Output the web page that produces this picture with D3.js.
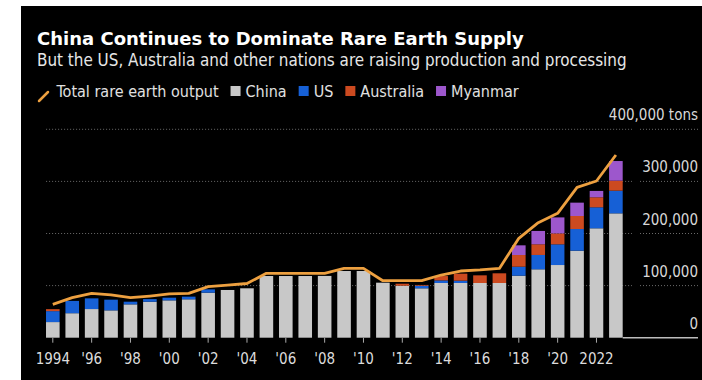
<!DOCTYPE html>
<html>
<head>
<meta charset="utf-8">
<script src="https://cdn.jsdelivr.net/npm/d3@7"></script>
<style>
  body { margin: 0; background: #fff; }
  svg text { font-family: "DejaVu Sans Condensed", "DejaVu Sans", sans-serif; }
  svg text.title { font-family: "DejaVu Sans", sans-serif; }
</style>
</head>
<body>
<div class="graph"></div>
<script>
// values in thousand tons
const years = d3.range(1994, 2024);
const china = [30, 47, 55, 52.5, 64, 69, 71.7, 73.7, 86.4, 91.6, 94.8, 118.4, 118.4, 118.4, 118.6, 128, 128, 105.6, 99.8, 94.8, 105, 105, 105, 105, 119, 131.3, 139.5, 167, 210, 238.7];
const us = [21, 23.6, 20.5, 20.5, 5.1, 5.1, 5.1, 5.1, 6.4, 0, 0, 0, 0, 0, 0, 0, 0, 0, 0, 5, 5, 4.5, 0, 0, 17.3, 27.5, 39.7, 41.6, 40.3, 43.5];
const australia = [3.8, 0, 0, 0, 0, 0, 0, 0, 0, 0, 0, 0, 0, 0, 0, 0, 0, 0, 3.8, 1.5, 8.3, 13.4, 14.7, 18.6, 22.4, 20.5, 21, 25, 19.2, 19.2];
const myanmar = [0, 0, 0, 0, 0, 0, 0, 0, 0, 0, 0, 0, 0, 0, 0, 0, 0, 0, 0, 0, 0, 0, 0, 0, 18.6, 25.6, 30.7, 25.6, 12.2, 37.7];
const total = [64, 76.8, 85, 82, 76.8, 80, 84, 85, 98, 101, 104, 123.6, 123.6, 123.6, 123.6, 133, 133, 109.4, 109.4, 109.4, 120.3, 128, 130, 133, 190.7, 220.7, 238.7, 288.6, 300.8, 350.7];
const yTicks = [0, 100, 200, 300, 400];
const xTickYears = d3.range(1994, 2023, 2);

const seriesKeys = ["China", "US", "Australia", "Myanmar"];
const colors = { China: "#c8c8c8", US: "#1660d6", Australia: "#cc4a20", Myanmar: "#9d57cc" };
const lineColor = "#eda040";

const W = 702, H = 380;
const svg = d3.select(".graph").append("svg").attr("width", W).attr("height", H);

svg.append("rect").attr("x", 21).attr("y", 6).attr("width", W - 21).attr("height", H - 6).attr("fill", "#000");

// titles
svg.append("text").attr("class", "title").attr("x", 37).attr("y", 45).attr("fill", "#fff")
  .attr("font-size", 18).attr("font-weight", "bold")
  .text("China Continues to Dominate Rare Earth Supply");
svg.append("text").attr("x", 37).attr("y", 66).attr("fill", "#e6e6e6")
  .attr("font-size", 16.9)
  .text("But the US, Australia and other nations are raising production and processing");

// scales
const x = d3.scaleBand().domain(years).range([43.1, 625.6]).paddingInner(0.3).paddingOuter(0.15);
const y = d3.scaleLinear().domain([0, 400]).range([337.7, 129.3]);

// gridlines
const grid = svg.append("g");
yTicks.filter((d) => d > 0).forEach((d) => {
  grid.append("line").attr("x1", x.range()[0] + 3).attr("x2", 632)
    .attr("y1", y(d)).attr("y2", y(d));
  grid.append("line").attr("x1", 640).attr("x2", 698)
    .attr("y1", y(d)).attr("y2", y(d));
});
grid.selectAll("line").attr("stroke", "#6a6a6a").attr("stroke-width", 1).attr("stroke-dasharray", "1,2");

// y labels on the right
svg.append("g").selectAll("text").data(yTicks).enter().append("text")
  .attr("x", 698).attr("y", (d) => y(d) - 9)
  .attr("text-anchor", "end").attr("fill", "#d8d8d8").attr("font-size", 15)
  .text((d) => d3.format(",")(d * 1000) + (d === 400 ? " tons" : ""));

// stacked bars
const table = years.map((yr, i) => ({
  year: yr, China: china[i], US: us[i], Australia: australia[i], Myanmar: myanmar[i],
}));
const stacked = d3.stack().keys(seriesKeys)(table);

svg.append("g").selectAll("g").data(stacked).enter().append("g")
  .attr("fill", (s) => colors[s.key])
  .selectAll("rect").data((s) => s).enter().append("rect")
  .attr("x", (d) => x(d.data.year))
  .attr("width", x.bandwidth())
  .attr("y", (d) => y(d[1]))
  .attr("height", (d) => y(d[0]) - y(d[1]));

// x axis
const lastYear = years[years.length - 1];
svg.append("line").attr("x1", x(lastYear) + x.bandwidth()).attr("x2", 698)
  .attr("y1", y(0)).attr("y2", y(0)).attr("stroke", "#bdbdbd").attr("stroke-width", 1.5);

const xAxis = svg.append("g");
xAxis.selectAll("line").data(xTickYears).enter().append("line")
  .attr("x1", (d) => x(d) + x.bandwidth() / 2).attr("x2", (d) => x(d) + x.bandwidth() / 2)
  .attr("y1", y(0)).attr("y2", y(0) + 5).attr("stroke", "#aaa").attr("stroke-width", 1);
xAxis.selectAll("text").data(xTickYears).enter().append("text")
  .attr("x", (d) => x(d) + x.bandwidth() / 2).attr("y", 364)
  .attr("text-anchor", "middle").attr("fill", "#dcdcdc").attr("font-size", 15)
  .text((d) => (d === 1994 || d === 2022 ? d : "'" + String(d).slice(2)));

// total line
const line = d3.line()
  .x((d, i) => x(years[i]) + x.bandwidth() / 2)
  .y((d) => y(d));
svg.append("path").datum(total).attr("fill", "none")
  .attr("stroke", lineColor).attr("stroke-width", 2.8).attr("stroke-linejoin", "round")
  .attr("d", line);

// legend
const legend = svg.append("g").attr("transform", "translate(0,97)");
legend.append("line").attr("x1", 39).attr("y1", 4).attr("x2", 48).attr("y2", -5)
  .attr("stroke", lineColor).attr("stroke-width", 2.5).attr("stroke-linecap", "round");
let lx = 56.5;
const first = legend.append("text").attr("x", lx).attr("y", 0).attr("fill", "#e0e0e0")
  .attr("font-size", 16).text("Total rare earth output");
lx += first.node().getComputedTextLength() + 12;
seriesKeys.forEach((k) => {
  legend.append("rect").attr("x", lx).attr("y", -11).attr("width", 10).attr("height", 10)
    .attr("fill", colors[k]);
  const t = legend.append("text").attr("x", lx + 15).attr("y", 0).attr("fill", "#e0e0e0")
    .attr("font-size", 16).text(k);
  lx += 15 + t.node().getComputedTextLength() + 12;
});
</script>
</body>
</html>
